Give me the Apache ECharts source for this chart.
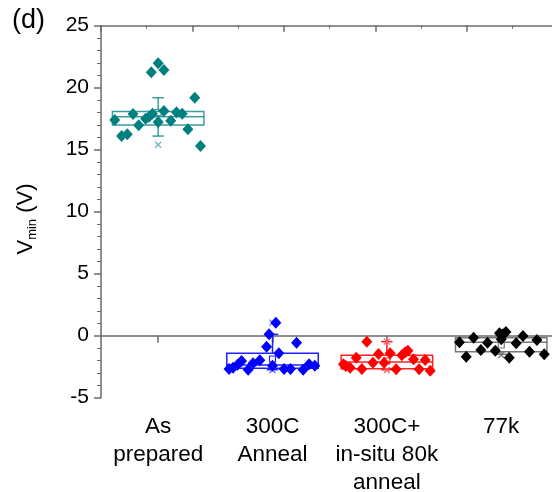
<!DOCTYPE html>
<html><head><meta charset="utf-8">
<script src="https://cdn.jsdelivr.net/npm/echarts@6/dist/echarts.min.js"></script>
<style>html,body{margin:0;padding:0;overflow:hidden;background:#fff;width:552px;height:492px}
#c{width:600px;height:492px}</style></head>
<body><div id="c"></div>
<script>
const categories = ['As\nprepared', '300C\nAnneal', '300C+\nin-situ 80k\nanneal', '77k'];
const yTicks = [-5, 0, 5, 10, 15, 20, 25];

// Scatter points: horizontal jitter (in category units) and V_min values
const asPreparedJitter = [-0.38, -0.32, -0.27, -0.22, -0.17, -0.11, -0.08, -0.05, -0.06, 0, 0.05, 0, 0.05, 0.11, 0.16, 0.21, 0.26, 0.32, 0.37];
const asPreparedValues = [17.40, 16.10, 16.24, 17.88, 16.97, 17.50, 17.66, 17.90, 21.24, 21.97, 21.43, 17.23, 18.12, 17.34, 18.02, 17.90, 16.65, 19.19, 15.30];

const anneal300Jitter = [-0.38, -0.345, -0.306, -0.271, -0.213, -0.170, -0.111, -0.052, -0.030, 0.029, 0, 0.055, 0.101, 0.157, 0.210, 0.268, 0.320, 0.370];
const anneal300Values = [-2.69, -2.58, -2.34, -2.04, -2.74, -2.23, -1.98, -0.89, 0.11, 1.05, -2.42, -1.42, -2.69, -2.69, -0.56, -2.74, -2.31, -2.42];

const insituJitter = [-0.38, -0.359, -0.321, -0.268, -0.219, -0.175, -0.122, -0.073, -0.024, 0.029, 0.081, 0.131, 0.160, 0.184, 0.233, 0.282, 0.335, 0.379];
const insituValues = [-2.31, -2.44, -2.58, -1.77, -2.69, -0.48, -2.18, -1.48, -2.18, -1.42, -2.71, -1.58, -1.34, -1.21, -1.90, -2.71, -1.96, -2.82];

const k77Jitter = [-0.365, -0.306, -0.242, -0.178, -0.12, -0.052, -0.015, 0.015, 0.041, 0, 0.07, 0.131, 0.19, 0.247, 0.312, 0.376];
const k77Values = [-0.53, -1.69, -0.16, -1.15, -0.56, -1.21, 0.19, 0.11, 0.30, -0.29, -1.77, -0.61, -0.02, -1.29, -0.35, -1.50];

// Box statistics per category
const boxQ1 = [16.99, -2.63, -2.66, -1.29];
const boxMedian = [17.66, -2.36, -2.12, -0.53];
const boxQ3 = [18.09, -1.42, -1.58, -0.16];
const whiskerLow = [16.10, -2.74, -2.75, -1.50];
const whiskerHigh = [19.19, 0.11, -0.48, 0.30];
const meanValue = [18.00, -1.88, -2.04, -0.75];
const lowMark = [15.40, -2.77, -2.77, -1.56];
const highMark = [21.97, 1.05, -0.48, 0.30];

const pointColors = ['#007f7f', '#0000ff', '#ff0000', '#000000'];
const boxColors = ['#3a9e9e', '#2020ff', '#ff2020', '#777777'];
const markColors = ['#6fb8b8', '#6060ff', '#ff6060', '#777777'];

const jitters = [asPreparedJitter, anneal300Jitter, insituJitter, k77Jitter];
const values = [asPreparedValues, anneal300Values, insituValues, k77Values];

const boxData = categories.map((c, i) => [i + 1, boxQ1[i], boxMedian[i], boxQ3[i], whiskerLow[i], whiskerHigh[i], meanValue[i], lowMark[i], highMark[i]]);

function renderBox(params, api) {
  const i = params.dataIndex;
  const c = api.value(0);
  const q1 = api.value(1), med = api.value(2), q3 = api.value(3);
  const lo = api.value(4), hi = api.value(5), mean = api.value(6), mn = api.value(7), mx = api.value(8);
  const col = boxColors[i], mcol = markColors[i];
  const tl = api.coord([c - 0.4, q3]);
  const br = api.coord([c + 0.4, q1]);
  const xc = api.coord([c, 0])[0];
  const y = v => api.coord([c, v])[1];
  const capHalf = api.size([0.05, 0])[0];
  const ls = { stroke: col, lineWidth: 1.5, fill: null };
  const ch = [];
  ch.push({ type: 'rect', shape: { x: tl[0], y: tl[1], width: br[0] - tl[0], height: br[1] - tl[1] }, style: ls });
  ch.push({ type: 'line', shape: { x1: tl[0], y1: y(med), x2: br[0], y2: y(med) }, style: ls });
  ch.push({ type: 'line', shape: { x1: xc, y1: y(q3), x2: xc, y2: y(hi) }, style: ls });
  ch.push({ type: 'line', shape: { x1: xc, y1: y(q1), x2: xc, y2: y(lo) }, style: ls });
  ch.push({ type: 'line', shape: { x1: xc - capHalf, y1: y(hi), x2: xc + capHalf, y2: y(hi) }, style: ls });
  ch.push({ type: 'line', shape: { x1: xc - capHalf, y1: y(lo), x2: xc + capHalf, y2: y(lo) }, style: ls });
  ch.push({ type: 'rect', shape: { x: xc - 3, y: y(mean) - 3, width: 6, height: 6 }, style: { stroke: col, lineWidth: 1.2, fill: null } });
  [mn, mx].forEach(v => {
    const yy = y(v);
    ch.push({ type: 'line', shape: { x1: xc - 3, y1: yy - 3, x2: xc + 3, y2: yy + 3 }, style: { stroke: mcol, lineWidth: 1.2 } });
    ch.push({ type: 'line', shape: { x1: xc - 3, y1: yy + 3, x2: xc + 3, y2: yy - 3 }, style: { stroke: mcol, lineWidth: 1.2 } });
  });
  return { type: 'group', children: ch };
}

const scatterSeries = values.map((vals, g) => ({
  type: 'scatter',
  xAxisIndex: 1,
  yAxisIndex: 0,
  symbol: 'diamond',
  symbolSize: [11, 12],
  itemStyle: { color: pointColors[g], opacity: 1 },
  z: 5,
  silent: true,
  data: vals.map((v, i) => [g + 1 + jitters[g][i], v])
}));

const axisGray = '#6a6a6a';
const chart = echarts.init(document.getElementById('c'), null, { renderer: 'canvas' });
chart.setOption({
  animation: false,
  backgroundColor: '#ffffff',
  grid: { left: 101, right: 41.6, top: 25.7, bottom: 94.3, containLabel: false, outerBoundsMode: 'none' },
  xAxis: [
    {
      type: 'category', position: 'bottom', data: categories,
      axisLine: { show: true, lineStyle: { color: axisGray, width: 1.5 } },
      axisTick: { show: true, alignWithLabel: true, length: 7, lineStyle: { color: axisGray, width: 1.5 } },
      axisLabel: { color: '#000', fontFamily: 'Liberation Sans', fontSize: 22.5, lineHeight: 28, margin: 15, interval: 0 },
      splitLine: { show: false }
    },
    { type: 'value', min: 0.5, max: 4.5, show: false, position: 'bottom' },
    {
      type: 'value', position: 'top', min: 0, max: 5, interval: 1,
      axisLine: { show: true, onZero: false, lineStyle: { color: axisGray, width: 1.5 } },
      axisTick: { show: true, inside: true, length: 6, lineStyle: { color: axisGray, width: 1.5 } },
      minorTick: { show: true, splitNumber: 2, length: 3, lineStyle: { color: axisGray, width: 1 } },
      axisLabel: { show: false },
      splitLine: { show: false }
    }
  ],
  yAxis: [{
    type: 'value', min: yTicks[0], max: yTicks[yTicks.length - 1], interval: 5,
    axisLine: { show: true, onZero: false, lineStyle: { color: axisGray, width: 1.5 } },
    axisTick: { show: true, length: 7, lineStyle: { color: axisGray, width: 1.5 } },
    minorTick: { show: true, splitNumber: 5, length: 4, lineStyle: { color: axisGray, width: 1 } },
    axisLabel: { color: '#000', fontFamily: 'Liberation Sans', fontSize: 21, margin: 12 },
    splitLine: { show: false }
  }],
  graphic: [
    { type: 'text', left: 12, top: 7, style: { text: '(d)', fontFamily: 'Liberation Sans', fontSize: 27, fill: '#000' } },
    {
      type: 'text', x: 26, y: 219, rotation: Math.PI / 2,
      style: {
        text: '{a|V}{b|min}{a| (V)}', align: 'center', verticalAlign: 'middle',
        rich: {
          a: { fontFamily: 'Liberation Sans', fontSize: 22, fill: '#000', lineHeight: 26 },
          b: { fontFamily: 'Liberation Sans', fontSize: 13, fill: '#000', lineHeight: 26, verticalAlign: 'bottom', padding: [10, 0, 0, 0] }
        }
      }
    }
  ],
  series: [
    { type: 'custom', xAxisIndex: 1, yAxisIndex: 0, renderItem: renderBox, data: boxData, z: 2, silent: true, clip: false,
      encode: { x: 0, y: [1, 2, 3, 4, 5] } },
    ...scatterSeries
  ]
});
</script></body></html>
